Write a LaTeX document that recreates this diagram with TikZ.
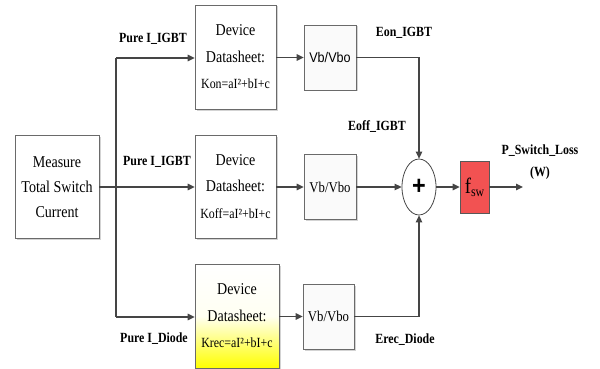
\documentclass[tikz,border=0pt]{standalone}
\usepackage{fontspec}
\setmainfont[FakeStretch=0.85]{Liberation Serif}
\newfontfamily\sansf[FakeStretch=0.9]{Liberation Sans}
\usetikzlibrary{arrows.meta,shadows,shapes.geometric}
\definecolor{ln}{HTML}{454545}
\definecolor{fswred}{HTML}{F25252}
\begin{document}
\begin{tikzpicture}[x=1pt,y=-1pt,
  blk/.style={draw=ln!80,line width=0.7pt,fill=white,inner sep=0pt,align=center,
    drop shadow={shadow xshift=1.5pt,shadow yshift=-1.5pt,opacity=0.35}},
  vbk/.style={blk,fill=gray!4,minimum width=52pt,minimum height=65pt,font=\fontsize{15}{18}\selectfont},
  ddk/.style={blk,minimum width=81pt,minimum height=104pt,font=\fontsize{16.5}{26.5}\selectfont},
  conn/.style={draw=ln,line width=1.3pt},
  arr/.style={conn,-{Triangle[length=7pt,width=6.5pt]}},
  lbl/.style={font=\fontsize{14}{18}\bfseries\selectfont,inner sep=0pt,align=center}
]
\useasboundingbox (0,0) rectangle (600,369);
% blocks
\node[blk,minimum width=84pt,minimum height=103pt,font=\fontsize{16.5}{25}\selectfont] (meas) at (57,187) {Measure\\Total Switch\\Current};
\node[ddk] (dd1) at (235.5,57) {Device\\Datasheet:\\{\fontsize{14}{26.5}\selectfont Kon=aI²+bI+c}};
\node[ddk,minimum height=103pt] (dd2) at (235.5,186.5) {Device\\Datasheet:\\{\fontsize{14}{26.5}\selectfont Koff=aI²+bI+c}};
\node[ddk,minimum width=84pt,top color=white,bottom color=yellow,middle color=yellow!5] (dd3) at (237,316) {Device\\Datasheet:\\{\fontsize{14}{26.5}\selectfont Krec=aI²+bI+c}};
\node[vbk,font=\sansf\fontsize{14}{18}\selectfont] (vb1) at (330,57.5) {Vb/Vbo};
\node[vbk] (vb2) at (330,187) {Vb/Vbo};
\node[vbk,minimum width=51pt] (vb3) at (328.5,316.5) {Vb/Vbo};
\node[ellipse,draw=ln,line width=0.8pt,fill=white,minimum width=34pt,minimum height=56pt,inner sep=0pt,
  font=\sansf\fontsize{26}{26}\bfseries\selectfont] (sum) at (419,187) {+};
\node[draw=ln!90,line width=0.7pt,fill=fswred,minimum width=29pt,minimum height=52pt,inner sep=0pt] (fsw) at (474.5,187)
  {{\fontsize{22}{22}\selectfont f}\raisebox{-3pt}{\fontsize{14}{14}\selectfont sw}};
% coordinates
\coordinate (t1) at (116,58);
\coordinate (t3) at (116,317);
\coordinate (c1) at (419,57.5);
\coordinate (c3) at (419,316.5);
\coordinate (out) at (523,187);
% connectors
\draw[conn] (t1) -- (t3);
\draw[arr] (t1) -- (dd1.west |- t1);
\draw[arr] (t3) -- (dd3.west |- t3);
\draw[arr] (meas.east) -- (dd2.west |- meas);
\draw[arr] (dd1.east |- vb1) -- (vb1.west);
\draw[arr] (dd2.east |- vb2) -- (vb2.west);
\draw[arr] (dd3.east |- vb3) -- (vb3.west);
\draw[arr] (vb1.east) -- (c1) -- (sum.north);
\draw[arr] (vb3.east) -- (c3) -- (sum.south);
\draw[arr] (vb2.east) -- (sum.west);
\draw[arr] (sum.east) -- (fsw.west |- sum);
\draw[arr] (fsw.east) -- (out);
% labels
\node[lbl] (l1) at (153,39) {Pure I\_IGBT};
\node[lbl] (l2) at (157,162) {Pure I\_IGBT};
\node[lbl] (l3) at (154,339) {Pure I\_Diode};
\node[lbl] (l4) at (404,33) {Eon\_IGBT};
\node[lbl] (l5) at (377,127) {Eoff\_IGBT};
\node[lbl] (l6) at (405,340) {Erec\_Diode};
\node[lbl,font=\fontsize{14}{22}\bfseries\selectfont] (l7) at (540,162) {P\_Switch\_Loss\\(W)};
\end{tikzpicture}
\end{document}
